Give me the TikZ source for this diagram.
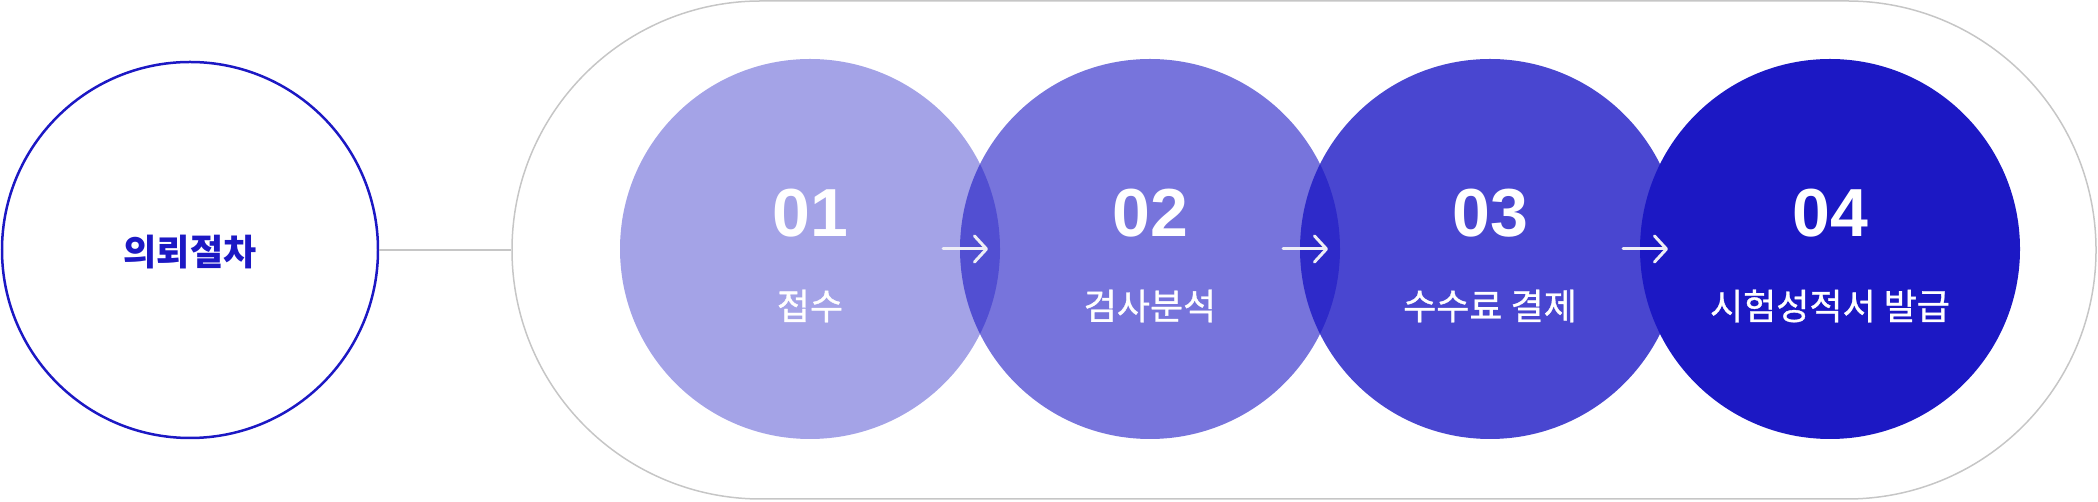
\documentclass[tikz,border=0pt]{standalone}
\usepackage{fontspec}
\usetikzlibrary{arrows.meta}
\newfontfamily\kr{Noto Sans CJK KR}
\newfontfamily\krm[FakeBold=0.9]{Noto Sans CJK KR}
\newfontfamily\num{Liberation Sans}
\definecolor{mainblue}{HTML}{1C18C4}
\definecolor{pillgray}{HTML}{C6C6C6}
\definecolor{arrowwhite}{HTML}{EEEEF6}
\tikzset{
  stepcircle/.style={circle, inner sep=0pt, minimum size=380pt, fill=mainblue, draw=none},
  numtext/.style={text=white, font=\num\bfseries\fontsize{68}{70}\selectfont, inner sep=0pt},
  labeltext/.style={text=white, font=\krm\fontsize{36}{40}\selectfont, inner sep=0pt},
  flowarrow/.style={draw=arrowwhite, line width=3pt, line cap=round, -{Straight Barb[length=12pt,width=26pt,round]}},
}
\begin{document}
\begin{tikzpicture}[x=1pt,y=1pt]
\useasboundingbox (0,0) rectangle (2098,502);
% pill frame
\node[draw=pillgray, line width=1.5pt, rounded corners=249pt, minimum width=1584pt, minimum height=498pt, inner sep=0pt] (pill) at (1304,252) {};
% request circle
\node[circle, draw=mainblue, line width=2.5pt, inner sep=0pt, minimum size=376pt, fill=white] (req) at (190,252) {};
\node[text=mainblue, font=\kr\bfseries\fontsize{36}{40}\selectfont, inner sep=0pt] (reqtext) at (190,250) {의뢰절차};
\draw[pillgray, line width=2pt] (req.east) -- (pill.west);
% step circles
\node[stepcircle, fill opacity=0.4] (s1) at (810,253) {};
\node[stepcircle, fill opacity=0.6] (s2) at (1150,253) {};
\node[stepcircle, fill opacity=0.8] (s3) at (1490,253) {};
\node[stepcircle, fill opacity=1] (s4) at (1830,253) {};
% arrows
\foreach \i/\c in {1/810,2/1150,3/1490}{
  \coordinate (a\i s) at (\c+133,253);
  \coordinate (a\i e) at (\c+178,253);
  \draw[flowarrow] (a\i s) -- (a\i e);
}
% texts
\node[numtext] (n1) at (810,289) {01};
\node[numtext] (n2) at (1150,289) {02};
\node[numtext] (n3) at (1490,289) {03};
\node[numtext] (n4) at (1830,289) {04};
\node[labeltext] (l1) at (810,196) {접수};
\node[labeltext] (l2) at (1150,196) {검사분석};
\node[labeltext] (l3) at (1490,196) {수수료 결제};
\node[labeltext] (l4) at (1830,196) {시험성적서 발급};
\end{tikzpicture}
\end{document}
